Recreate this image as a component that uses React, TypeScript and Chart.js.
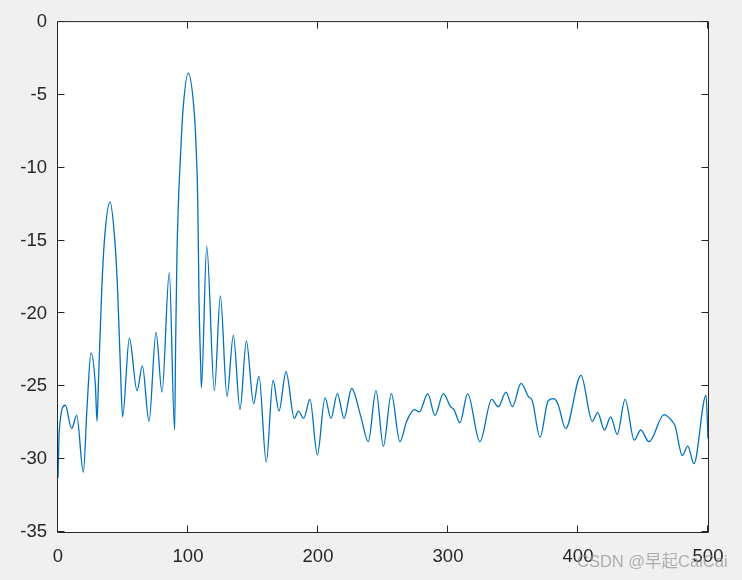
import React, { useEffect, useRef } from "react";
import { Chart, registerables } from "chart.js";

Chart.register(...registerables);

// Sample positions (x) and magnitude in dB
const xValues = [
  0, 1, 5.6, 10.5, 14.4, 19.5, 22.3, 25.4, 28.8, 30,
  31.3, 33.6, 35.6, 40, 43.8, 45.9, 48.2, 49.7, 54.9, 60.8,
  64.9, 70, 75.4, 80, 85.6, 89.7, 90.5, 91.5, 92.6, 94.6,
  96, 100.2, 104.8, 106.2, 107.5, 108.5, 109.8, 110.3, 114.4, 120.3,
  124.9, 130, 134.9, 140, 144.9, 150.5, 154.6, 160.2, 165.4, 170,
  175.4, 181.8, 184.9, 189, 193.8, 199.5, 205.4, 210, 214.9, 220,
  225.9, 233, 238.7, 244.6, 250.3, 256.4, 263, 268.2, 274.1, 278,
  284.4, 290, 296.4, 302, 304.6, 309.2, 315.1, 324.5, 333.6, 338.7,
  344.6, 349.5, 356.2, 361.8, 364.9, 370.8, 377, 381, 384.5, 390.5,
  402.3, 411, 415.1, 420.3, 425.1, 430.2, 436.2, 443.3, 448.2, 454.6,
  466.2, 472.5, 474.6, 480.3, 484.4, 489.2, 498.5, 500,
];

const dbValues = [
  -31.3, -28.0, -26.3, -27.9, -27.0, -30.9, -26.5, -22.7, -25.0, -27.4,
  -24.2, -18.5, -15.1, -12.35, -15.1, -18.5, -24.2, -27.1, -21.7, -25.3,
  -23.6, -27.4, -21.3, -25.4, -17.2, -28.0, -22.0, -16.0, -12.5, -8.5,
  -6.2, -3.5, -6.2, -8.5, -12.3, -19.2, -23.7, -25.1, -15.4, -25.3,
  -18.8, -25.7, -21.5, -26.6, -21.9, -26.2, -24.3, -30.2, -24.6, -26.7,
  -24.0, -27.2, -26.7, -27.2, -25.9, -29.7, -25.8, -27.2, -25.5, -27.2,
  -25.15, -27.1, -28.8, -25.3, -29.1, -25.5, -28.8, -27.4, -26.6, -26.75,
  -25.5, -27.0, -25.5, -26.4, -26.6, -27.5, -25.5, -28.8, -25.9, -26.4,
  -25.4, -26.4, -24.8, -25.7, -26.0, -28.5, -26.0, -25.85, -26.2, -27.9,
  -24.25, -27.4, -26.8, -28.0, -27.1, -28.3, -25.9, -28.7, -28.0, -28.8,
  -26.95, -27.4, -27.7, -29.75, -29.1, -30.3, -25.6, -28.6,
];

const xTickValues = [0, 100, 200, 300, 400, 500];
const yTickValues = [0, -5, -10, -15, -20, -25, -30, -35];

const AXIS_COLOR = "#262626";
const LINE_COLOR = "#0072BD";
const FONT_FAMILY = "'Liberation Sans', Arial, Helvetica, sans-serif";

const matlabAxesPlugin = {
  id: "matlabAxes",
  beforeDraw(chart: any) {
    const { ctx, chartArea } = chart;
    const { left, right, top, bottom } = chartArea;
    ctx.save();
    ctx.fillStyle = "#ffffff";
    ctx.fillRect(left, top, right - left, bottom - top);
    ctx.restore();
  },
  afterDatasetsDraw(chart: any) {
    const { ctx, chartArea, scales } = chart;
    const { left, right, top, bottom } = chartArea;
    const tick = 6.5;
    ctx.save();
    ctx.strokeStyle = AXIS_COLOR;
    ctx.lineWidth = 1;
    ctx.beginPath();
    ctx.rect(left - 0.5, top - 0.5, right - left + 1, bottom - top + 1);
    ctx.stroke();
    ctx.beginPath();
    xTickValues.forEach((v) => {
      const px = Math.round(scales.x.getPixelForValue(v)) - 0.5;
      ctx.moveTo(px, bottom);
      ctx.lineTo(px, bottom - tick);
      ctx.moveTo(px, top);
      ctx.lineTo(px, top + tick);
    });
    yTickValues.forEach((v) => {
      const py = Math.round(scales.y.getPixelForValue(v)) - 0.5;
      ctx.moveTo(left, py);
      ctx.lineTo(left + tick, py);
      ctx.moveTo(right, py);
      ctx.lineTo(right - tick, py);
    });
    ctx.stroke();
    ctx.restore();
  },
};

export default function App() {
  const canvasRef = useRef<HTMLCanvasElement | null>(null);

  useEffect(() => {
    const canvas = canvasRef.current;
    if (!canvas) return;
    const points = xValues.map((x, i) => ({ x, y: dbValues[i] }));
    const chart = new Chart(canvas, {
      type: "line",
      data: {
        datasets: [
          {
            data: points,
            borderColor: LINE_COLOR,
            borderWidth: 1.3,
            pointRadius: 0,
            fill: false,
            cubicInterpolationMode: "monotone",
          },
        ],
      },
      options: {
        animation: false,
        responsive: false,
        devicePixelRatio: 1,
        events: [],
        layout: { padding: { top: 19, right: 34, left: 0, bottom: 0 } },
        plugins: {
          legend: { display: false },
          tooltip: { enabled: false },
          title: { display: false },
        },
        scales: {
          x: {
            type: "linear",
            min: 0,
            max: 500,
            afterFit: (s: any) => {
              s.height = 48;
            },
            afterBuildTicks: (s: any) => {
              s.ticks = xTickValues.map((v) => ({ value: v }));
            },
            grid: { display: true, drawOnChartArea: false, drawTicks: false },
            border: { display: false },
            ticks: {
              color: AXIS_COLOR,
              font: { family: FONT_FAMILY, size: 18.5 },
              padding: 14,
              maxRotation: 0,
            },
          },
          y: {
            type: "linear",
            min: -35,
            max: 0,
            afterFit: (s: any) => {
              s.width = 58;
            },
            afterBuildTicks: (s: any) => {
              s.ticks = yTickValues.map((v) => ({ value: v }));
            },
            grid: { display: true, drawOnChartArea: false, drawTicks: false },
            border: { display: false },
            ticks: {
              color: AXIS_COLOR,
              font: { family: FONT_FAMILY, size: 18.5 },
              padding: 11,
            },
          },
        },
      },
      plugins: [matlabAxesPlugin],
    });
    return () => chart.destroy();
  }, []);

  return (
    <div
      style={{
        position: "fixed",
        left: 0,
        top: 0,
        width: 742,
        height: 580,
        background: "#f0f0f0",
        overflow: "hidden",
      }}
    >
      <canvas
        ref={canvasRef}
        width={742}
        height={580}
        style={{ display: "block", width: 742, height: 580 }}
      />
      <span
        style={{
          position: "absolute",
          left: 577,
          top: 551,
          fontFamily: "'Liberation Sans', Arial, 'Noto Sans CJK SC', sans-serif",
          fontSize: 16.5,
          color: "rgba(150,150,150,0.75)",
          whiteSpace: "nowrap",
          lineHeight: "20px",
        }}
      >
        CSDN @早起CaiCai
      </span>
    </div>
  );
}
